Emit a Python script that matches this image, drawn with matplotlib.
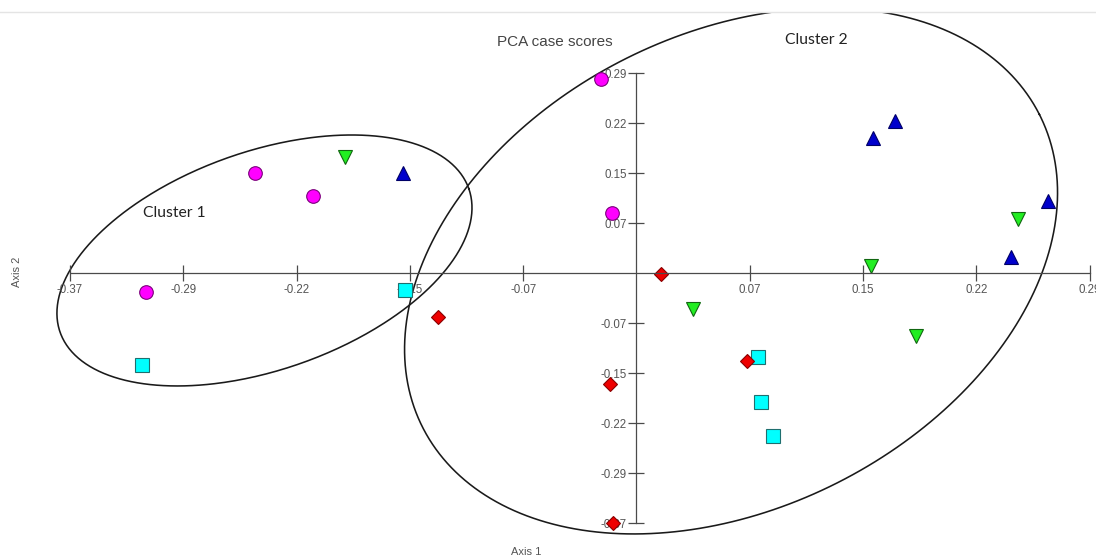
import numpy as np
import matplotlib
matplotlib.use("Agg")
import matplotlib.pyplot as plt

plt.rcParams['font.family'] = ['Liberation Sans', 'DejaVu Sans']

# ---------------- data (PCA case scores, Axis 1 / Axis 2) ----------------
circle_x = [-0.3175, -0.2469, -0.2092, -0.0232, -0.0161]
circle_y = [-0.0279, 0.1466, 0.1138, 0.2849, 0.0889]

tri_down_x = [-0.1887, 0.0364, 0.1515, 0.1806, 0.2467]
tri_down_y = [0.1701, -0.0523, 0.0114, -0.0919, 0.0796]

tri_up_x = [-0.1509, 0.1533, 0.1673, 0.2424, 0.2662]
tri_up_y = [0.1466, 0.1979, 0.2238, 0.0235, 0.1060]

square_x = [-0.3199, -0.1498, 0.0788, 0.0806, 0.0885]
square_y = [-0.1345, -0.0252, -0.1223, -0.1891, -0.2386]

diamond_x = [-0.1287, 0.0161, -0.0172, 0.0717, -0.0154]
diamond_y = [-0.0636, -0.0003, -0.1628, -0.1282, -0.3657]

tick_values = [-0.3667, -0.2933, -0.22, -0.1467, -0.0733,
               0.0733, 0.1467, 0.22, 0.2933]
tick_labels = ["-0.37", "-0.29", "-0.22", "-0.15", "-0.07",
               "0.07", "0.15", "0.22", "0.29"]

cluster_names = ["Cluster 1", "Cluster 2"]
# ellipse: centre (data), semi-axes (pixels), angle (deg)
cluster_ellipses = [(-0.2408, 0.0188, 216.6, 109.1, 19.35),
                    (0.0612, 0.0034, 345.8, 237.0, 26.9)]
cluster_label_pos = [(-0.2990, 0.0880), (0.1161, 0.3421)]

# ---------------- figure ----------------
W, H = 1096, 557
fig = plt.figure(figsize=(W / 100, H / 100), dpi=100)
top_px = 12
ax = fig.add_axes([0, 0, 1, (H - top_px) / H])
ax.set_xlim(-0.41197, 0.29741)
ax.set_ylim(-0.41598, 0.38314)

axis_col = '#4a4a4a'
for s in ['top', 'right']:
    ax.spines[s].set_visible(False)
for s in ['left', 'bottom']:
    ax.spines[s].set_position(('data', 0))
    ax.spines[s].set_color(axis_col)
    ax.spines[s].set_linewidth(0.9)
ax.spines['left'].set_bounds(tick_values[0], tick_values[-1])
ax.spines['bottom'].set_bounds(tick_values[0], tick_values[-1])

ax.set_xticks(tick_values, tick_labels)
ax.set_yticks(tick_values, tick_labels)
ax.tick_params(axis='both', direction='inout', length=12, width=0.9,
               color=axis_col, labelsize=8.3, labelcolor='#555555')
ax.tick_params(axis='x', pad=1.5)
ax.tick_params(axis='y', pad=0.8)

# ellipses
def draw_ellipse(cx, cy, a, b, ang):
    t = np.linspace(0, 2 * np.pi, 500)
    th = np.deg2rad(ang)
    sc = fig.dpi / 100.0
    dx = (a * np.cos(t) * np.cos(th) - b * np.sin(t) * np.sin(th)) * sc
    dy = (a * np.cos(t) * np.sin(th) + b * np.sin(t) * np.cos(th)) * sc
    c = ax.transData.transform((cx, cy))
    pts = ax.transData.inverted().transform(np.column_stack([c[0] + dx, c[1] + dy]))
    ax.plot(pts[:, 0], pts[:, 1], color='#1a1a1a', lw=1.15, zorder=1.5)

for (cx, cy, a, b, ang) in cluster_ellipses:
    draw_ellipse(cx, cy, a, b, ang)

# markers
mk = dict(linestyle='none', markeredgewidth=0.8, zorder=2)
ax.plot(circle_x, circle_y, marker='o', ms=9.8, mfc='#ff00ff', mec='#7a007a', **mk)
ax.plot(tri_down_x, tri_down_y, marker='v', ms=10.5, mfc='#22ee22', mec='#116611', **mk)
ax.plot(tri_up_x, tri_up_y, marker='^', ms=10.5, mfc='#0000cc', mec='#000066', **mk)
ax.plot(square_x, square_y, marker='s', ms=10.2, mfc='#00ffff', mec='#1f6f6f', **mk)
ax.plot(diamond_x, diamond_y, marker='D', ms=6.8, mfc='#ee0000', mec='#880000', **mk)

# texts
ax.text(-0.0528, 0.3396, "PCA case scores", ha='center', va='center',
        fontsize=11, color='#444444')
for name, (lx, ly) in zip(cluster_names, cluster_label_pos):
    ax.text(lx, ly, name, ha='center', va='center', fontsize=11.3,
            color='#222222', family=['Lato', 'DejaVu Sans'])

fig.text(526.3 / W, 1 - 551.7 / H, "Axis 1", ha='center', va='center',
         fontsize=8, color='#555555')
fig.text(17.5 / W, 1 - 272 / H, "Axis 2", ha='center', va='center',
         rotation=90, fontsize=8, color='#555555')

# thin grey line at top (screenshot edge)
fig.add_artist(plt.Line2D([0, 1], [1 - top_px / H, 1 - top_px / H],
                          transform=fig.transFigure, color='#e4e4e4', lw=1))

fig.savefig('out.png', dpi=100, facecolor='white')
